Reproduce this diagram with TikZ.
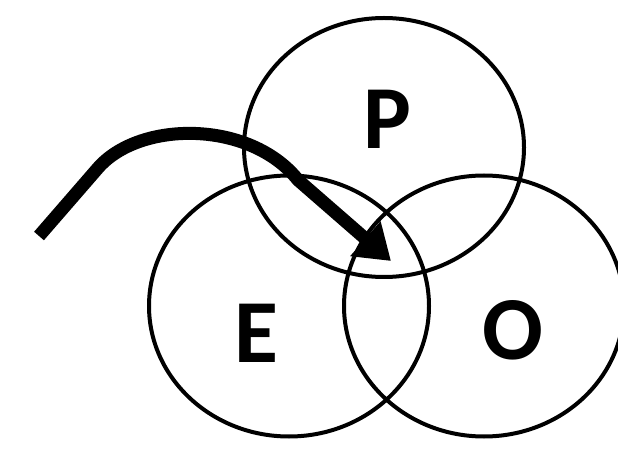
\documentclass[tikz,border=0pt]{standalone}
\usepackage{fontspec}
\setmainfont{Carlito}
\usetikzlibrary{shapes.geometric,arrows.meta}
\begin{document}
\begin{tikzpicture}[x=1pt,y=1pt,
  ring/.style={draw=black,line width=4pt,ellipse,inner sep=0pt,minimum width=280pt,minimum height=259pt},
  letter/.style={inner sep=0pt,font=\fontsize{90}{90}\selectfont\bfseries},
  bigarrow/.style={line width=13pt,-{Triangle[length=34pt,width=44pt]}}]
\useasboundingbox (0,0) rectangle (618,450);
\clip (0,0) rectangle (618,450);
\node[ring] (P) at (384,302.5) {};
\node[ring,minimum height=261pt] (E) at (289,144) {};
\node[ring,minimum height=261pt] (O) at (484,144) {};
\node[letter] (lp) at (387,331) {P};
\node[letter] (le) at (256,117) {E};
\node[letter] (lo) at (513,120) {O};
\coordinate (s) at (39,214);
\coordinate (b) at (98,282);
\coordinate (q) at (298,270);
\coordinate (t) at (391,189);
\draw[bigarrow] (s) -- (b) .. controls (140,330) and (250,330) .. (q) -- (t);
\end{tikzpicture}
\end{document}
